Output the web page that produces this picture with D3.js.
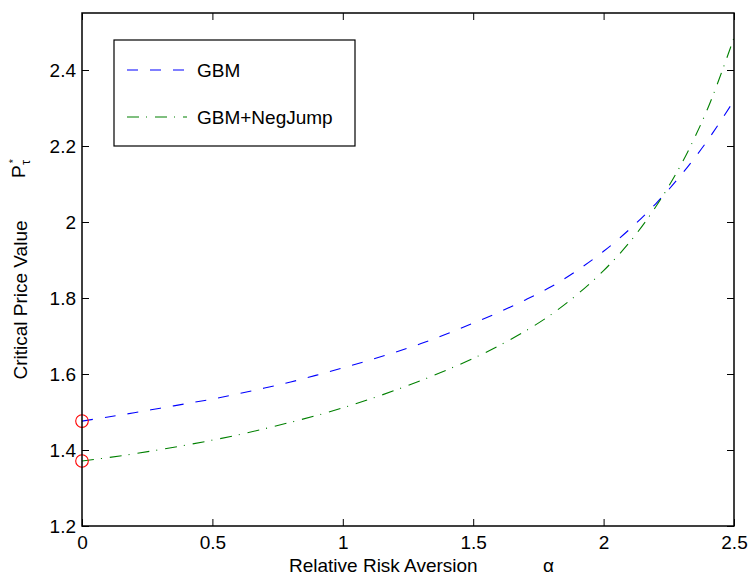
<!DOCTYPE html>
<html>
<head>
<meta charset="utf-8">
<script src="https://cdn.jsdelivr.net/npm/d3@7"></script>
<style>
  html, body { margin: 0; padding: 0; background: #fff; }
  svg { display: block; font-family: "Liberation Sans", Arial, Helvetica, sans-serif; }
</style>
</head>
<body>
<svg id="chart" width="748" height="577"></svg>
<script>
// Relative risk aversion grid
const alpha = [0, 0.1, 0.2, 0.3, 0.4, 0.5, 0.6, 0.7, 0.8, 0.9, 1.0, 1.1, 1.2,
               1.3, 1.4, 1.5, 1.6, 1.7, 1.8, 1.9, 2.0, 2.1, 2.2, 2.3, 2.4, 2.5];

// Critical price value under geometric Brownian motion
const gbm = [1.476, 1.487, 1.498, 1.510, 1.522, 1.534, 1.548, 1.563, 1.579, 1.597,
             1.616, 1.636, 1.657, 1.680, 1.706, 1.734, 1.763, 1.795, 1.830, 1.873,
             1.923, 1.981, 2.048, 2.126, 2.216, 2.320];

// Critical price value with negative jumps added
const gbmNegJump = [1.371, 1.380, 1.390, 1.401, 1.413, 1.426, 1.440, 1.456, 1.473, 1.491,
                    1.511, 1.533, 1.557, 1.583, 1.611, 1.641, 1.675, 1.713, 1.757, 1.810,
                    1.872, 1.947, 2.040, 2.155, 2.300, 2.485];

const seriesNames = ["GBM", "GBM+NegJump"];
const xTicks = [0, 0.5, 1, 1.5, 2, 2.5];
const xTickLabels = ["0", "0.5", "1", "1.5", "2", "2.5"];
const yTicks = [1.2, 1.4, 1.6, 1.8, 2.0, 2.2, 2.4];
const yTickLabels = ["1.2", "1.4", "1.6", "1.8", "2", "2.2", "2.4"];

const svg = d3.select("#chart");
const boxLeft = 82, boxRight = 734, boxTop = 13, boxBottom = 526;
const fontSize = 19;

const x = d3.scaleLinear().domain([0, 2.5]).range([boxLeft, boxRight]);
const y = d3.scaleLinear().domain([1.2, 2.55]).range([boxBottom, boxTop]);

// Clip curves to the axes box
svg.append("defs").append("clipPath").attr("id", "plotClip")
  .append("rect").attr("x", boxLeft).attr("y", boxTop)
  .attr("width", boxRight - boxLeft).attr("height", boxBottom - boxTop);

const line = d3.line()
  .x((d, i) => x(alpha[i]))
  .y(d => y(d))
  .curve(d3.curveCatmullRom);

const styles = [
  { data: gbm, color: "#0000ff", dash: "11,12" },
  { data: gbmNegJump, color: "#008000", dash: "12,7,1,8" }
];

const plot = svg.append("g").attr("clip-path", "url(#plotClip)");
styles.forEach(s => {
  plot.append("path")
    .datum(s.data)
    .attr("d", line)
    .attr("fill", "none")
    .attr("stroke", s.color)
    .attr("stroke-width", 1.1)
    .attr("stroke-dasharray", s.dash);
});

// Markers at alpha = 0
svg.append("g").selectAll("circle")
  .data([gbm[0], gbmNegJump[0]])
  .join("circle")
  .attr("cx", x(alpha[0]))
  .attr("cy", d => y(d))
  .attr("r", 6.3)
  .attr("fill", "none")
  .attr("stroke", "#ff0000")
  .attr("stroke-width", 1.1);

// Axes (ticks point inward on all four sides)
const tickLen = 7;
const gx = svg.append("g").attr("transform", `translate(0,${boxBottom})`)
  .call(d3.axisBottom(x).tickValues(xTicks)
    .tickFormat((d, i) => xTickLabels[i])
    .tickSizeInner(-tickLen).tickSizeOuter(0).tickPadding(10));
gx.selectAll("text").attr("y", 23).attr("dy", 0);

const gxTop = svg.append("g").attr("transform", `translate(0,${boxTop})`)
  .call(d3.axisTop(x).tickValues(xTicks).tickFormat("")
    .tickSizeInner(-tickLen).tickSizeOuter(0));

const gy = svg.append("g").attr("transform", `translate(${boxLeft},0)`)
  .call(d3.axisLeft(y).tickValues(yTicks)
    .tickFormat((d, i) => yTickLabels[i])
    .tickSizeInner(-tickLen).tickSizeOuter(0).tickPadding(7));
gy.selectAll("text").attr("x", -6).attr("dy", "0.36em");

const gyRight = svg.append("g").attr("transform", `translate(${boxRight},0)`)
  .call(d3.axisRight(y).tickValues(yTicks).tickFormat("")
    .tickSizeInner(-tickLen).tickSizeOuter(0));

[gx, gxTop, gy, gyRight].forEach(g => {
  g.select(".domain").remove();
  g.selectAll("line").attr("stroke", "#000").attr("stroke-width", 1);
  g.selectAll("text").attr("fill", "#000")
    .style("font-family", "'Liberation Sans', Arial, sans-serif")
    .style("font-size", fontSize + "px");
});

// Axes box
svg.append("rect")
  .attr("x", boxLeft).attr("y", boxTop)
  .attr("width", boxRight - boxLeft).attr("height", boxBottom - boxTop)
  .attr("fill", "none").attr("stroke", "#000").attr("stroke-width", 1.5);

// X axis label
svg.append("text")
  .attr("x", 289).attr("y", 572)
  .attr("font-size", fontSize)
  .text("Relative Risk Aversion");
svg.append("text")
  .attr("x", 543).attr("y", 572)
  .attr("font-size", fontSize)
  .text("α");

// Y axis label
svg.append("text")
  .attr("transform", "translate(27,300) rotate(-90)")
  .attr("text-anchor", "middle")
  .attr("font-size", fontSize)
  .text("Critical Price Value");

const pLabel = svg.append("text")
  .attr("transform", "translate(25,178) rotate(-90)")
  .attr("font-size", fontSize);
pLabel.append("tspan").text("P");
pLabel.append("tspan").attr("font-size", 11).attr("dx", 2).attr("dy", -8).text("*");
pLabel.append("tspan").attr("font-size", 13).attr("dx", -6).attr("dy", 13).text("τ");

// Legend
const legend = svg.append("g");
legend.append("rect")
  .attr("x", 114).attr("y", 40).attr("width", 241).attr("height", 106)
  .attr("fill", "#fff").attr("stroke", "#000").attr("stroke-width", 1.2);
styles.forEach((s, i) => {
  const ly = 70 + i * 47;
  legend.append("line")
    .attr("x1", 127).attr("x2", 187).attr("y1", ly).attr("y2", ly)
    .attr("stroke", s.color).attr("stroke-width", 1.1)
    .attr("stroke-dasharray", s.dash);
  legend.append("text")
    .attr("x", 197).attr("y", ly).attr("dy", "0.36em")
    .attr("font-size", fontSize)
    .text(seriesNames[i]);
});
</script>
</body>
</html>
